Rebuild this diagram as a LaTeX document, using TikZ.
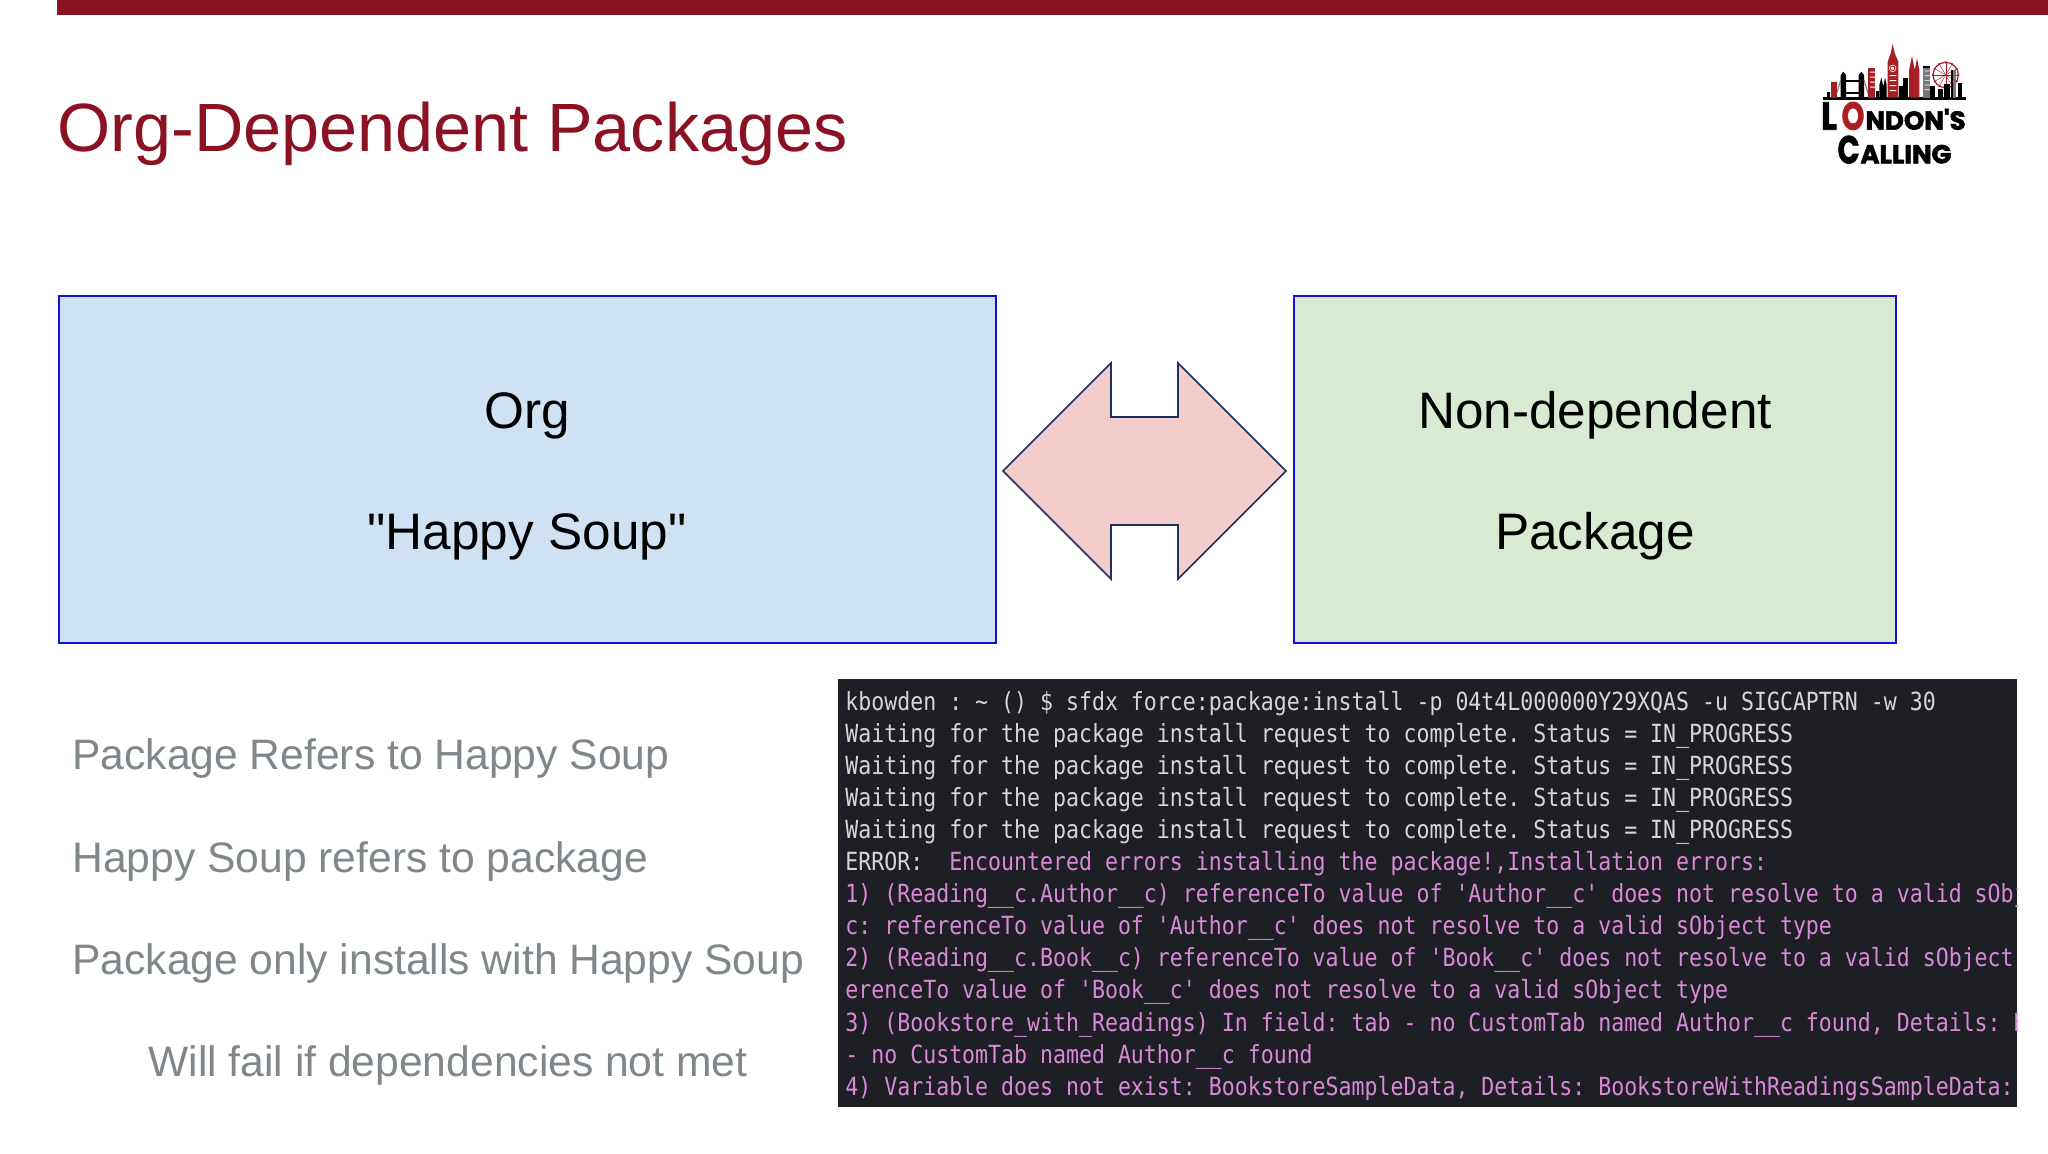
\documentclass[tikz,border=0pt]{standalone}
\usepackage{fontspec}
\setmainfont{Liberation Sans}
\newfontfamily\plainfont{Liberation Sans}
\newfontfamily\termfont{DejaVu Sans Mono}[FakeStretch=0.8625]
\newfontfamily\logofont{Poppins}[FakeBold=2]
\definecolor{barred}{HTML}{8A1222}
\definecolor{blueb}{HTML}{CFE2F3}
\definecolor{greenb}{HTML}{D9EAD3}
\definecolor{pinkb}{HTML}{F4CCCC}
\definecolor{edgeb}{HTML}{1111DD}
\definecolor{edgea}{HTML}{1C2F5F}
\definecolor{greyt}{HTML}{7F878B}
\definecolor{termbg}{HTML}{1E1F24}
\definecolor{termw}{HTML}{D6D6D6}
\definecolor{termp}{HTML}{D88AD8}
\definecolor{logored}{HTML}{A81E24}
\definecolor{logogrey}{HTML}{777777}
\tikzset{
  boxb/.style={draw=edgeb,line width=1pt,inner sep=0pt,outer sep=0pt,anchor=north west},
  boxtext/.style={font=\plainfont\fontsize{25.65}{30}\selectfont,text=black,anchor=base,inner sep=0pt},
  greyline/.style={font=\fontsize{21.3}{27}\selectfont,text=greyt,anchor=base west,inner sep=0pt},
  termline/.style={font=\termfont\fontsize{12.5}{15}\selectfont\frenchspacing,anchor=base west,inner sep=0pt,text=termw},
  termpink/.style={termline,text=termp},
  blk/.style={fill=black,draw=none},
  red/.style={fill=logored,draw=none},
  logobig/.style={anchor=base west,inner sep=0pt,xscale=0.74,font=\logofont\bfseries\fontsize{19.5}{20}\selectfont},
  logosmall/.style={anchor=base west,inner sep=0pt,font=\logofont\bfseries\fontsize{13}{14}\selectfont},
}
\begin{document}
\begin{tikzpicture}[x=0.5pt,y=-0.5pt]
\useasboundingbox (0,0) rectangle (2048,1153);
\fill[white] (0,0) rectangle (2048,1153);
\fill[barred] (57,0) rectangle (2048,15);
\node[anchor=base west,inner sep=0pt,text=barred,font=\fontsize{34.17}{40}\selectfont] (title) at (57,151) {Org-Dependent Packages};

\node[boxb,fill=blueb,minimum width=937*0.5pt,minimum height=347*0.5pt] (org) at (58.5,295.5) {};
\node[boxb,fill=greenb,minimum width=602*0.5pt,minimum height=347*0.5pt] (pkg) at (1293.5,295.5) {};
\node[boxtext] (orga) at (527,428) {Org};
\node[boxtext] (orgb) at (527,549) {"Happy Soup"};
\node[boxtext] (pkga) at (1595,428) {Non-dependent};
\node[boxtext] (pkgb) at (1595,549) {Package};

\draw[fill=pinkb,draw=edgea,line width=0.8pt,line join=miter]
  (1003,471) -- (1111,363) -- (1111,417) -- (1178,417) -- (1178,363) -- (1286,471)
  -- (1178,579) -- (1178,525) -- (1111,525) -- (1111,579) -- cycle;

\node[greyline] (g1) at (72,769.3) {Package Refers to Happy Soup};
\node[greyline] (g2) at (72,872.3) {Happy Soup refers to package};
\node[greyline] (g3) at (72,974.3) {Package only installs with Happy Soup};
\node[greyline] (g4) at (148,1076.3) {Will fail if dependencies not met};

\fill[termbg] (838,679) rectangle (2017,1107);
\begin{scope}
\clip (838,679) rectangle (2017,1107);
\node[termline] (t1) at (845,710) {kbowden : \textasciitilde{} () \$ sfdx force:package:install -p 04t4L000000Y29XQAS -u SIGCAPTRN -w 30};
\node[termline] (t2) at (845,742) {Waiting for the package install request to complete. Status = IN\_PROGRESS};
\node[termline] (t3) at (845,774) {Waiting for the package install request to complete. Status = IN\_PROGRESS};
\node[termline] (t4) at (845,806) {Waiting for the package install request to complete. Status = IN\_PROGRESS};
\node[termline] (t5) at (845,838) {Waiting for the package install request to complete. Status = IN\_PROGRESS};
\node[termline] (t6) at (845,870) {ERROR:\ \ \textcolor{termp}{Encountered errors installing the package!,Installation errors:}};
\node[termpink] (t7) at (845,902) {1) (Reading\_\_c.Author\_\_c) referenceTo value of 'Author\_\_c' does not resolve to a valid sObj};
\node[termpink] (t8) at (845,934) {c: referenceTo value of 'Author\_\_c' does not resolve to a valid sObject type};
\node[termpink] (t9) at (845,966) {2) (Reading\_\_c.Book\_\_c) referenceTo value of 'Book\_\_c' does not resolve to a valid sObject};
\node[termpink] (t10) at (845,998) {erenceTo value of 'Book\_\_c' does not resolve to a valid sObject type};
\node[termpink] (t11) at (845,1031) {3) (Bookstore\_with\_Readings) In field: tab - no CustomTab named Author\_\_c found, Details: B};
\node[termpink] (t12) at (845,1063) {- no CustomTab named Author\_\_c found};
\node[termpink] (t13) at (845,1095) {4) Variable does not exist: BookstoreSampleData, Details: BookstoreWithReadingsSampleData:};
\end{scope}

% logo, drawn in 3x crop coordinates
\begin{scope}[shift={(1780,30)},x=0.16667pt,y=-0.16667pt]
\fill[blk] (128,202) rectangle (557,209);
\fill[blk] (142,185) rectangle (150,203);
\fill[red] (152,157) rectangle (170,203);
\fill[blk] (182,203) -- (182,135) -- (190,125) -- (198,135) -- (198,203) -- cycle;
\fill[blk] (236,203) -- (236,135) -- (244,125) -- (252,135) -- (252,203) -- cycle;
\fill[blk] (198,150) rectangle (236,157);
\fill[blk] (198,185) rectangle (236,191);
\draw[logogrey,line width=0.5pt] (170,190) -- (182,150) (252,150) -- (264,190);
\fill[red] (265,115) rectangle (285,203);
\fill[white] (270,125) rectangle (285,128) (270,140) rectangle (285,143) (270,155) rectangle (285,158) (270,170) rectangle (285,173);
\fill[blk] (288,183) rectangle (296,203);
\fill[blk] (298,203) -- (298,165) -- (304,143) -- (309,165) -- (311,165) -- (315,143) -- (320,165) -- (320,203) -- cycle;
\fill[red] (323,203) -- (323,95) -- (332,70) -- (338,42) -- (344,70) -- (355,95) -- (355,203) -- cycle;
\fill[white] (338,115) circle[radius=11];
\draw[logored,line width=0.5pt] (338,115) circle[radius=7];
\fill[white] (329,135) rectangle (349,138) (329,150) rectangle (349,153) (329,165) rectangle (349,168) (329,180) rectangle (349,183);
\fill[blk] (356,168) rectangle (368,203);
\fill[blk] (370,145) rectangle (383,203);
\fill[red] (387,203) -- (387,120) -- (396,78) -- (404,120) -- (411,85) -- (418,120) -- (418,203) -- cycle;
\fill[logogrey] (428,107) rectangle (450,203);
\fill[blk] (428,107) rectangle (450,113);
\fill[white] (434,122) rectangle (450,124) (434,136) rectangle (450,138) (434,150) rectangle (450,152) (434,164) rectangle (450,166) (434,178) rectangle (450,180);
\fill[blk] (451,168) rectangle (466,203);
\fill[blk] (474,178) rectangle (488,203);
\draw[logored,line width=0.6pt] (497,135) circle[radius=38];
\foreach \a in {0,30,...,330} {
  \draw[logored,line width=0.2pt] (497,135) -- ++(\a:38);
  \fill[logored] (497,135) ++(\a:38) circle[radius=3.5];
}
\fill[blk] (492,163) rectangle (510,203);
\fill[logogrey] (512,120) rectangle (527,203);
\fill[blk] (512,120) rectangle (520,203);
\fill[blk] (533,158) rectangle (545,203);
\node[logobig,xscale=1.15] (logoL) at (122,299) {L};
\node[logobig,text=logored] (logoO) at (184,299) {O};
\node[logosmall] (logoN) at (255,299) {NDON'S};
\node[logobig] (logoC) at (172,400) {C};
\node[logosmall] (logoA) at (240,400) {ALLING};
\end{scope}
\end{tikzpicture}
\end{document}
